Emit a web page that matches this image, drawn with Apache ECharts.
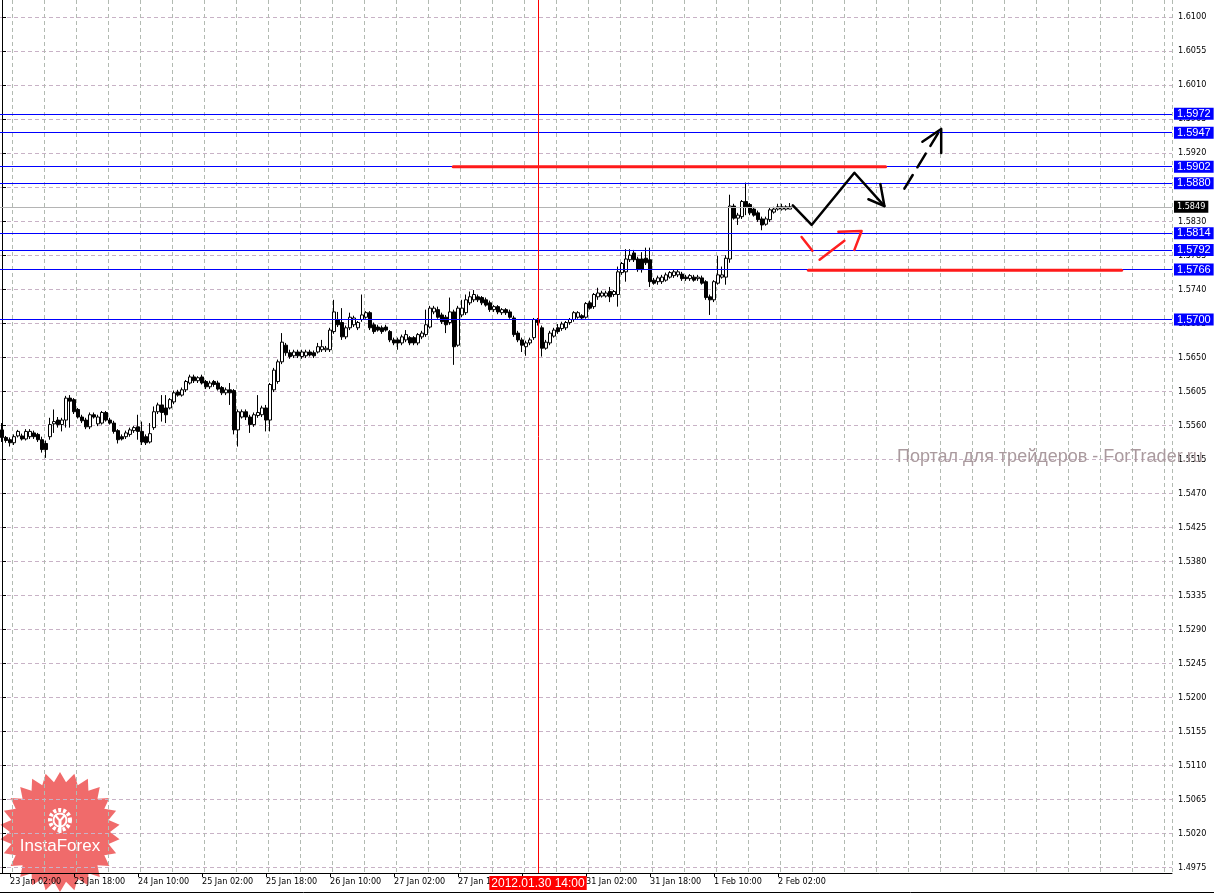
<!DOCTYPE html>
<html>
<head>
<meta charset="utf-8">
<script src="https://cdn.jsdelivr.net/npm/echarts@6.0.0/dist/echarts.min.js"></script>
<style>
html,body{margin:0;padding:0;background:#fff;}
#chart{width:1214px;height:894px;}
</style>
</head>
<body>
<div id="chart"></div>
<script>
// ---- DATA (GBPUSD H1) ----
const opens = [
1.5554,1.5544,1.5541,1.5537,1.5546,1.5546,1.5542,1.5545,1.5550,1.5548,
1.5541,1.5536,1.5545,1.5562,1.5567,1.5561,1.5567,1.5596,1.5594,1.5581,
1.5571,1.5567,1.5558,1.5574,1.5562,1.5563,1.5577,1.5567,1.5563,1.5553,
1.5545,1.5545,1.5548,1.5553,1.5558,1.5552,1.5545,1.5538,1.5557,1.5578,
1.5587,1.5583,1.5583,1.5591,1.5604,1.5600,1.5607,1.5616,1.5624,1.5619,
1.5624,1.5618,1.5611,1.5618,1.5616,1.5610,1.5603,1.5607,1.5606,1.5554,
1.5571,1.5578,1.5571,1.5561,1.5573,1.5574,1.5583,1.5567,1.5607,1.5618,
1.5644,1.5666,1.5656,1.5652,1.5657,1.5651,1.5652,1.5657,1.5656,1.5657,
1.5660,1.5660,1.5660,1.5684,1.5700,1.5696,1.5677,1.5689,1.5693,1.5689,
1.5700,1.5703,1.5709,1.5693,1.5690,1.5689,1.5690,1.5684,1.5673,1.5673,
1.5669,1.5673,1.5676,1.5676,1.5669,1.5677,1.5680,1.5690,1.5710,1.5713,
1.5706,1.5703,1.5696,1.5710,1.5666,1.5706,1.5709,1.5722,1.5726,1.5730,
1.5729,1.5726,1.5722,1.5713,1.5717,1.5709,1.5713,1.5710,1.5702,1.5682,
1.5673,1.5664,1.5669,1.5676,1.5700,1.5689,1.5662,1.5669,1.5678,1.5689,
1.5688,1.5689,1.5696,1.5700,1.5703,1.5705,1.5703,1.5722,1.5717,1.5730,
1.5731,1.5731,1.5737,1.5733,1.5733,1.5762,1.5763,1.5779,1.5788,1.5780,
1.5780,1.5781,1.5779,1.5752,1.5750,1.5750,1.5752,1.5756,1.5758,1.5759,
1.5760,1.5756,1.5754,1.5756,1.5754,1.5755,1.5750,1.5730,1.5726,1.5748,
1.5756,1.5756,1.5780,1.5850,1.5834,1.5836,1.5856,1.5852,1.5846,1.5841,
1.5833,1.5826,1.5832,1.5842,1.5846,1.5846,1.5846,1.5846];
const closes = [
1.5544,1.5540,1.5537,1.5545,1.5552,1.5542,1.5552,1.5552,1.5545,1.5541,
1.5528,1.5528,1.5561,1.5565,1.5561,1.5567,1.5596,1.5592,1.5578,1.5571,
1.5566,1.5558,1.5574,1.5571,1.5571,1.5577,1.5567,1.5563,1.5552,1.5541,
1.5542,1.5550,1.5554,1.5557,1.5552,1.5538,1.5537,1.5549,1.5578,1.5587,
1.5577,1.5574,1.5594,1.5603,1.5600,1.5607,1.5618,1.5624,1.5619,1.5623,
1.5616,1.5611,1.5616,1.5614,1.5608,1.5603,1.5607,1.5603,1.5554,1.5578,
1.5578,1.5571,1.5561,1.5574,1.5577,1.5583,1.5567,1.5614,1.5633,1.5644,
1.5670,1.5656,1.5651,1.5657,1.5652,1.5657,1.5657,1.5653,1.5652,1.5664,
1.5664,1.5662,1.5686,1.5710,1.5693,1.5677,1.5689,1.5703,1.5702,1.5696,
1.5706,1.5709,1.5689,1.5684,1.5686,1.5684,1.5686,1.5673,1.5669,1.5669,
1.5677,1.5680,1.5669,1.5669,1.5680,1.5682,1.5693,1.5715,1.5715,1.5703,
1.5697,1.5693,1.5710,1.5664,1.5715,1.5715,1.5726,1.5730,1.5733,1.5726,
1.5722,1.5719,1.5713,1.5717,1.5710,1.5713,1.5709,1.5703,1.5680,1.5673,
1.5666,1.5669,1.5673,1.5700,1.5696,1.5662,1.5670,1.5682,1.5686,1.5684,
1.5694,1.5696,1.5700,1.5709,1.5709,1.5702,1.5721,1.5715,1.5733,1.5735,
1.5735,1.5735,1.5730,1.5737,1.5763,1.5774,1.5780,1.5785,1.5779,1.5766,
1.5766,1.5775,1.5750,1.5748,1.5755,1.5756,1.5759,1.5762,1.5763,1.5763,
1.5754,1.5754,1.5758,1.5752,1.5756,1.5748,1.5729,1.5726,1.5750,1.5759,
1.5759,1.5781,1.5850,1.5834,1.5838,1.5856,1.5849,1.5841,1.5838,1.5832,
1.5825,1.5833,1.5845,1.5846,1.5849,1.5849,1.5849,1.5849];
const highs = [
1.5563,1.5546,1.5544,1.5548,1.5554,1.5549,1.5555,1.5555,1.5553,1.5550,
1.5545,1.5540,1.5570,1.5581,1.5571,1.5570,1.5599,1.5600,1.5596,1.5583,
1.5574,1.5570,1.5577,1.5577,1.5574,1.5579,1.5579,1.5570,1.5566,1.5555,
1.5548,1.5553,1.5557,1.5559,1.5574,1.5565,1.5548,1.5563,1.5585,1.5590,
1.5600,1.5600,1.5596,1.5606,1.5607,1.5610,1.5620,1.5627,1.5627,1.5625,
1.5627,1.5620,1.5619,1.5620,1.5619,1.5612,1.5610,1.5616,1.5608,1.5581,
1.5581,1.5581,1.5574,1.5577,1.5600,1.5586,1.5587,1.5616,1.5636,1.5647,
1.5682,1.5669,1.5660,1.5660,1.5660,1.5660,1.5660,1.5660,1.5659,1.5669,
1.5673,1.5665,1.5689,1.5726,1.5710,1.5715,1.5692,1.5709,1.5705,1.5698,
1.5733,1.5711,1.5711,1.5696,1.5693,1.5692,1.5693,1.5686,1.5676,1.5676,
1.5680,1.5686,1.5678,1.5678,1.5682,1.5685,1.5713,1.5718,1.5718,1.5717,
1.5709,1.5706,1.5729,1.5713,1.5718,1.5726,1.5733,1.5737,1.5739,1.5733,
1.5731,1.5729,1.5725,1.5719,1.5719,1.5715,1.5715,1.5713,1.5705,1.5685,
1.5676,1.5672,1.5676,1.5702,1.5702,1.5692,1.5673,1.5685,1.5689,1.5694,
1.5697,1.5698,1.5702,1.5711,1.5711,1.5707,1.5723,1.5725,1.5735,1.5742,
1.5738,1.5738,1.5743,1.5739,1.5770,1.5776,1.5793,1.5793,1.5792,1.5783,
1.5789,1.5795,1.5795,1.5755,1.5758,1.5759,1.5762,1.5764,1.5766,1.5766,
1.5763,1.5759,1.5760,1.5759,1.5759,1.5758,1.5752,1.5733,1.5752,1.5784,
1.5770,1.5785,1.5865,1.5853,1.5841,1.5858,1.5881,1.5854,1.5849,1.5844,
1.5836,1.5836,1.5848,1.5849,1.5853,1.5853,1.5851,1.5854];
const lows = [
1.5538,1.5537,1.5532,1.5534,1.5544,1.5540,1.5540,1.5542,1.5542,1.5538,
1.5524,1.5517,1.5541,1.5550,1.5557,1.5552,1.5557,1.5557,1.5575,1.5569,
1.5563,1.5555,1.5555,1.5569,1.5559,1.5561,1.5565,1.5561,1.5549,1.5536,
1.5540,1.5542,1.5545,1.5550,1.5541,1.5534,1.5534,1.5536,1.5554,1.5575,
1.5565,1.5563,1.5581,1.5588,1.5598,1.5598,1.5604,1.5614,1.5616,1.5616,
1.5614,1.5608,1.5608,1.5611,1.5606,1.5600,1.5600,1.5587,1.5548,1.5532,
1.5569,1.5567,1.5550,1.5558,1.5570,1.5571,1.5552,1.5552,1.5604,1.5615,
1.5641,1.5652,1.5648,1.5649,1.5649,1.5648,1.5649,1.5651,1.5649,1.5655,
1.5657,1.5657,1.5657,1.5681,1.5690,1.5673,1.5674,1.5686,1.5690,1.5686,
1.5697,1.5701,1.5686,1.5681,1.5684,1.5681,1.5684,1.5670,1.5666,1.5660,
1.5666,1.5670,1.5666,1.5666,1.5666,1.5674,1.5677,1.5688,1.5707,1.5701,
1.5694,1.5682,1.5693,1.5640,1.5664,1.5703,1.5706,1.5719,1.5723,1.5723,
1.5719,1.5717,1.5710,1.5710,1.5707,1.5706,1.5706,1.5701,1.5677,1.5670,
1.5657,1.5652,1.5666,1.5673,1.5692,1.5651,1.5660,1.5666,1.5676,1.5681,
1.5685,1.5686,1.5693,1.5697,1.5701,1.5700,1.5701,1.5713,1.5714,1.5726,
1.5729,1.5729,1.5723,1.5730,1.5717,1.5759,1.5750,1.5776,1.5776,1.5763,
1.5762,1.5772,1.5743,1.5746,1.5746,1.5747,1.5750,1.5754,1.5755,1.5756,
1.5751,1.5751,1.5751,1.5750,1.5751,1.5746,1.5726,1.5706,1.5723,1.5746,
1.5754,1.5746,1.5775,1.5832,1.5825,1.5833,1.5838,1.5838,1.5836,1.5829,
1.5818,1.5824,1.5829,1.5840,1.5844,1.5844,1.5844,1.5846];

const xTickLabels = ['23 Jan 02:00','23 Jan 18:00','24 Jan 10:00','25 Jan 02:00','25 Jan 18:00',
  '26 Jan 10:00','27 Jan 02:00','27 Jan 18:00','30 Jan 10:00','31 Jan 02:00','31 Jan 18:00',
  '1 Feb 10:00','2 Feb 02:00'];
const yTicks = [1.4975,1.5020,1.5065,1.5110,1.5155,1.5200,1.5245,1.5290,1.5335,1.5380,1.5425,
  1.5470,1.5515,1.5560,1.5605,1.5650,1.5695,1.5740,1.5785,1.5830,1.5875,1.5920,1.5965,1.6010,1.6055,1.6100];
const blueLevels = [1.5972,1.5947,1.5902,1.5880,1.5814,1.5792,1.5766,1.5700];
const bidPrice = 1.5849;
const crosshairCategory = '30 Jan 14:00';
const crosshairLabel = '2012.01.30 14:00';

// hand-drawn annotations: [bar position, price]
const blackPath = [[197.7,1.5851],[202.4,1.5825],[213.1,1.5894],[220.6,1.5850]];
const blackHead = [[219.6,1.5879],[220.6,1.5850],[216.6,1.5859]];
const dashShaft = [[225.6,1.5873],[234.0,1.5946]];
const dashHead = [[230.1,1.5935],[234.8,1.5952],[234.8,1.5920]];
const redSeg1 = [[199.9,1.5809],[202.6,1.5791]];
const redSeg2 = [[204.4,1.5779],[210.6,1.5804]];
const redHead = [[209.1,1.5816],[214.9,1.5817],[213.1,1.5792]];
const redLevelHigh = [[112.8,1.5902],[220.9,1.5902]];
const redLevelLow = [[201.6,1.5765],[279.9,1.5765]];

const watermark = 'Портал для трейдеров - ForTrader.ru';
const logoText = 'InstaForex';

// ---- build categories (hourly bars, weekends skipped) ----
const TOTAL_SLOTS = 293;
function buildCategories(){
  const mon = ['Jan','Feb','Mar'];
  const out = [];
  let t = Date.UTC(2012,0,23,0);
  while(out.length < TOTAL_SLOTS){
    const d = new Date(t);
    const wd = d.getUTCDay();
    if(wd !== 0 && wd !== 6){
      out.push(d.getUTCDate()+' '+mon[d.getUTCMonth()]+' '+String(d.getUTCHours()).padStart(2,'0')+':00');
    }
    t += 3600000;
  }
  return out;
}
const categories = buildCategories();
const candleData = opens.map((o,i)=>[o, closes[i], lows[i], highs[i]]);

const FONT_AX = "'DejaVu Sans Condensed','Liberation Sans',Arial,sans-serif";
const FONT = "'Liberation Sans',Arial,sans-serif";

function levelLabel(bg, size, fam){
  return {show:true, position:'end', distance:2, backgroundColor:bg, color:'#fff',
    fontFamily:fam, fontSize:size, padding:[1,3,0,3], lineHeight:11,
    formatter:(p)=>Number(p.value).toFixed(4)};
}

const markData = blueLevels.map(v=>({yAxis:v, lineStyle:{color:'#0000ff',width:1,type:'solid'}, label:levelLabel('#0000ff',11,FONT)}));
markData.push({yAxis:bidPrice, lineStyle:{color:'#b4b4b4',width:1,type:'solid'}, label:levelLabel('#000000',9,FONT_AX)});
markData.push({xAxis:crosshairCategory, lineStyle:{color:'#ff0000',width:1,type:'solid'},
  label:{show:true, position:'start', distance:3, formatter:crosshairLabel, backgroundColor:'#ff0000',
    color:'#fff', fontFamily:FONT, fontSize:12, padding:[1,2,0,2], lineHeight:13}});

function annot(data, color, width, type){
  return {type:'line', xAxisIndex:1, yAxisIndex:0, data:data, symbol:'none', silent:true,
    lineStyle:{color:color, width:width, type:type||'solid', cap:'round', join:'round'}, z:5, animation:false};
}

function starPoints(cx, cy, rOut, rIn, n){
  const pts = [];
  for(let k=0;k<n*2;k++){
    const r = k%2===0 ? rOut : rIn;
    const a = -Math.PI/2 + k*Math.PI/n;
    pts.push([cx + r*Math.cos(a), cy + r*Math.sin(a)]);
  }
  return pts;
}

const chart = echarts.init(document.getElementById('chart'), null, {renderer:'canvas'});
chart.setOption({
  animation:false,
  backgroundColor:'#ffffff',
  grid:{left:-2, right:42, top:0, bottom:21, containLabel:false},
  xAxis:[{
    type:'category', data:categories, boundaryGap:true,
    axisLine:{show:true, lineStyle:{color:'#000', width:1}},
    axisTick:{show:true, alignWithLabel:true, length:4, interval:(i,v)=>xTickLabels.includes(v), lineStyle:{color:'#000'}},
    axisLabel:{show:true, interval:(i,v)=>xTickLabels.includes(v), align:'left', margin:4, color:'#000',
      fontFamily:FONT_AX, fontSize:9, hideOverlap:false},
    splitLine:{show:true, interval:(i)=>i%8===3, lineStyle:{color:'#b2bab2', type:[4,3], width:1}}
  },{
    type:'value', min:-0.5, max:TOTAL_SLOTS-0.5, show:false
  }],
  yAxis:{
    type:'value', position:'right', min:1.4968, max:1.61225, scale:true,
    axisLine:{show:true, lineStyle:{color:'#000', width:1}},
    axisTick:{show:true, length:4, customValues:yTicks, lineStyle:{color:'#000'}},
    axisLabel:{show:true, customValues:yTicks, formatter:(v)=>Number(v).toFixed(4), margin:6, color:'#000',
      fontFamily:FONT_AX, fontSize:9},
    splitLine:{show:true, lineStyle:{color:'#c8b2c6', type:[4,3], width:1}}
  },
  series:[
    {
      type:'candlestick', data:candleData, barWidth:3, silent:true,
      itemStyle:{color:'#ffffff', color0:'#000000', borderColor:'#000000', borderColor0:'#000000', borderWidth:1},
      markLine:{symbol:['none','none'], silent:true, animation:false, precision:4, data:markData}
    },
    annot(redLevelHigh, '#ff1a1a', 3),
    annot(redLevelLow, '#ff1a1a', 3),
    annot(blackPath, '#000', 2.5),
    annot(blackHead, '#000', 2.5),
    annot(dashShaft, '#000', 2.5, [16,9]),
    annot(dashHead, '#000', 2.5),
    annot(redSeg1, '#ff2020', 2.5),
    annot(redSeg2, '#ff2020', 2.5),
    annot(redHead, '#ff2020', 2.5)
  ],
  graphic:[
    {type:'text', left:897, top:448, silent:true, z:1,
      style:{text:watermark, fill:'#aa9a9e', font:"18px 'Liberation Sans', Arial, sans-serif"}},
    {type:'line', silent:true, shape:{x1:0, y1:892.5, x2:1214, y2:892.5}, style:{stroke:'#000', lineWidth:1}},
    {type:'group', silent:true, z:10, children:[
      {type:'polygon', shape:{points:starPoints(60,832,60,50,26)}, style:{fill:'rgba(236,70,70,0.80)'}},
      {type:'circle', shape:{cx:60, cy:820, r:10}, style:{fill:'none', stroke:'#fff', lineWidth:4, lineDash:[3,2]}},
      {type:'circle', shape:{cx:60, cy:820, r:6.5}, style:{fill:'none', stroke:'#fff', lineWidth:2}},
      {type:'polyline', shape:{points:[[55,815],[60,821],[65,815]]}, style:{stroke:'#fff', lineWidth:2, fill:'none'}},
      {type:'line', shape:{x1:60, y1:821, x2:60, y2:833}, style:{stroke:'#fff', lineWidth:3}},
      {type:'text', style:{text:logoText, x:60, y:846, align:'center', verticalAlign:'middle', fill:'#fff',
        font:"17px 'Liberation Sans', Arial, sans-serif"}}
    ]}
  ]
});
</script>
</body>
</html>
